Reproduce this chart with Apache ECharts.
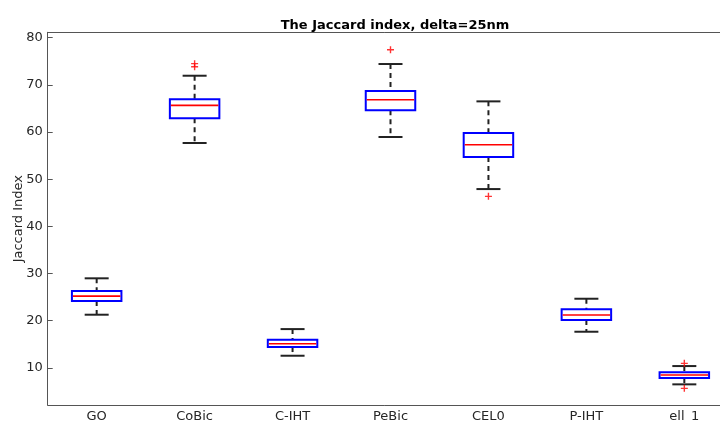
<!DOCTYPE html>
<html><head><meta charset="utf-8">
<script src="https://cdn.jsdelivr.net/npm/echarts@6/dist/echarts.min.js"></script>
<style>html,body{margin:0;padding:0;background:#fff;}#c{width:720px;height:421px;}</style>
</head><body><div id="c"></div>
<script>
const categories = ['GO','CoBic','C-IHT','PeBic','CEL0','P-IHT','ell_1'];
// [lower whisker, Q1, median, Q3, upper whisker]
const boxStats = [
  [21.25, 24.15, 25.2, 26.27, 28.97],
  [57.67, 62.9, 65.66, 66.93, 71.94],
  [12.55, 14.39, 15.09, 15.94, 18.2],
  [58.94, 64.6, 66.85, 68.7, 74.42],
  [47.9, 54.7, 57.3, 59.79, 66.5],
  [17.64, 20.12, 21.18, 22.39, 24.64],
  [6.48, 7.82, 8.45, 9.02, 10.36]
];
const outliers = [
  ['CoBic', 74.5], ['CoBic', 73.85],
  ['PeBic', 77.46],
  ['CEL0', 46.36],
  ['ell_1', 10.93], ['ell_1', 5.63]
];
const yTicks = [10,20,30,40,50,60,70,80];

const chart = echarts.init(document.getElementById('c'), null, {renderer:'canvas'});
const FONT = 'DejaVu Sans';
const plus = 'path://M4,0 L6,0 L6,4 L10,4 L10,6 L6,6 L6,10 L4,10 L4,6 L0,6 L0,4 L4,4 Z';

chart.setOption({
  animation:false,
  title:{text:'The Jaccard index, delta=25nm', left:390, top:14, textAlign:'center',
    textStyle:{fontFamily:FONT, fontSize:13, fontWeight:'bold', color:'#000'}},
  grid:{left:47.7, top:32.3, width:685.6, height:372.7, show:false, containLabel:false, outerBoundsMode:'none'},
  xAxis:[{type:'category', data:categories, boundaryGap:true, position:'bottom',
    axisLine:{lineStyle:{color:'#555', width:1}},
    axisTick:{inside:true, alignWithLabel:true, length:5, lineStyle:{color:'#555'}},
    axisLabel:{fontFamily:FONT, fontSize:13, color:'#262626', margin:5},
    splitLine:{show:false}},
   {type:'category', data:categories, boundaryGap:true, position:'top',
    axisLine:{lineStyle:{color:'#555', width:1}},
    axisTick:{inside:true, alignWithLabel:true, length:5, lineStyle:{color:'#555'}},
    axisLabel:{show:false}, splitLine:{show:false}}],
  yAxis:{type:'value', min:2.1, max:81.15,
    name:'Jaccard Index', nameLocation:'middle', nameGap:23, nameMoveOverlap:false,
    nameTextStyle:{fontFamily:FONT, fontSize:13, color:'#262626'},
    axisLine:{show:true, lineStyle:{color:'#555', width:1}},
    axisTick:{show:true, inside:true, length:5, lineStyle:{color:'#555'}, customValues: yTicks},
    axisLabel:{fontFamily:FONT, fontSize:13, color:'#262626', margin:5, customValues: yTicks},
    splitLine:{show:false}},
  series:[
    {type:'custom', data: boxStats.map((s,i)=>[i].concat(s)),
     encode:{x:0, y:[1,2,3,4,5]},
     renderItem:function(params, api){
       const i = api.value(0);
       const p = (v)=>api.coord([i, v]);
       const cx = p(api.value(3))[0];
       const yLo = p(api.value(1))[1], yQ1 = p(api.value(2))[1], yMed = p(api.value(3))[1],
             yQ3 = p(api.value(4))[1], yHi = p(api.value(5))[1];
       const bw = 49.5, cw = 24;
       const dash = {stroke:'#222', lineWidth:2, lineDash:[5,4]};
       const cap = {stroke:'#222', lineWidth:2};
       return {type:'group', children:[
         {type:'line', shape:{x1:cx,y1:yHi,x2:cx,y2:yQ3}, style:dash},
         {type:'line', shape:{x1:cx,y1:yQ1,x2:cx,y2:yLo}, style:dash},
         {type:'line', shape:{x1:cx-cw/2,y1:yHi,x2:cx+cw/2,y2:yHi}, style:cap},
         {type:'line', shape:{x1:cx-cw/2,y1:yLo,x2:cx+cw/2,y2:yLo}, style:cap},
         {type:'rect', shape:{x:cx-bw/2, y:yQ3, width:bw, height:yQ1-yQ3},
           style:{fill:null, stroke:'#0000ff', lineWidth:2}},
         {type:'line', shape:{x1:cx-bw/2+1,y1:yMed,x2:cx+bw/2-1,y2:yMed},
           style:{stroke:'#ff0000', lineWidth:1.6}}
       ]};
     }},
    {type:'scatter', data:outliers, symbol:plus, symbolSize:7,
     itemStyle:{color:'#ff0000'}}
  ]
});
</script></body></html>
